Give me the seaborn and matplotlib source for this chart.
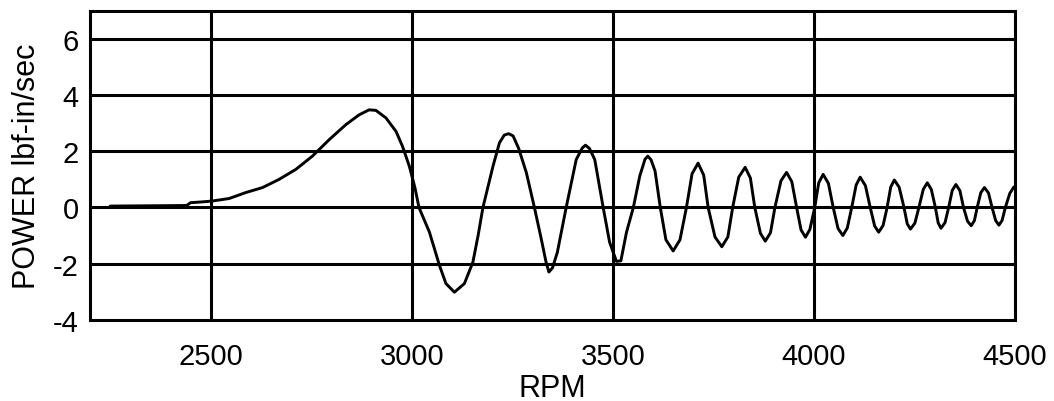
import matplotlib
matplotlib.use("Agg")
import matplotlib.pyplot as plt
import seaborn as sns
import pandas as pd

# Power response vs shaft speed
rpm = [2250, 2440, 2450, 2480, 2504, 2546, 2587, 2629, 2670, 2712, 2753, 2795,
       2836, 2869, 2894, 2911, 2936, 2961, 2977, 2994, 3008, 3018, 3044, 3069,
       3085, 3106, 3131, 3152, 3165, 3177, 3202, 3218, 3230, 3241, 3252, 3266,
       3285, 3305, 3322, 3334, 3341, 3350, 3362, 3384, 3409, 3424, 3432, 3442,
       3455, 3476, 3492, 3509, 3520, 3534, 3551,
       3567, 3580, 3587, 3595, 3605, 3618, 3632, 3650, 3667, 3683, 3697, 3712,
       3726, 3737, 3754, 3771, 3786, 3798, 3813, 3829, 3842, 3853, 3867, 3879,
       3892, 3903, 3918, 3932, 3945, 3957, 3968, 3979, 3990, 4002, 4012, 4023,
       4036, 4048, 4060, 4072, 4083, 4094, 4105, 4115, 4128, 4140, 4151, 4161,
       4172, 4182, 4191, 4200, 4212, 4224, 4232, 4240, 4251, 4261, 4272, 4282,
       4292, 4302, 4309, 4316, 4326, 4335, 4344, 4353, 4363, 4372, 4382, 4391,
       4399, 4406, 4415, 4424, 4434, 4443, 4452, 4460, 4468, 4476, 4487, 4497]
power = [0.05, 0.07, 0.17, 0.20, 0.23, 0.32, 0.53, 0.71, 1.00, 1.36, 1.83, 2.42,
         2.95, 3.30, 3.48, 3.46, 3.19, 2.71, 2.18, 1.47, 0.70, 0.00, -0.88, -2.07,
         -2.71, -3.02, -2.71, -1.95, -1.00, 0.00, 1.47, 2.30, 2.58, 2.63, 2.55, 2.10,
         1.24, 0.00, -1.12, -1.95, -2.30, -2.15, -1.60, 0.00, 1.71, 2.12, 2.22, 2.10,
         1.71, 0.00, -1.24, -1.92, -1.90, -0.88, 0.00,
         1.12, 1.72, 1.83, 1.70, 1.30, 0.00, -1.15, -1.55, -1.15, 0.00, 1.20, 1.58,
         1.15, 0.00, -1.05, -1.40, -1.05, 0.00, 1.08, 1.43, 1.05, 0.00, -0.92, -1.20,
         -0.90, 0.00, 0.95, 1.25, 0.92, 0.00, -0.80, -1.06, -0.78, 0.00, 0.88, 1.18,
         0.86, 0.00, -0.75, -1.00, -0.73, 0.00, 0.80, 1.08, 0.78, 0.00, -0.66, -0.88,
         -0.64, 0.00, 0.73, 0.98, 0.72, 0.00, -0.58, -0.77, -0.56, 0.00, 0.65, 0.88,
         0.64, 0.00, -0.55, -0.74, -0.54, 0.00, 0.61, 0.82, 0.60, 0.00, -0.49, -0.65,
         -0.47, 0.00, 0.53, 0.71, 0.52, 0.00, -0.47, -0.63, -0.46, 0.00, 0.50, 0.73]

x_ticks = [2500, 3000, 3500, 4000, 4500]
y_ticks = [-4, -2, 0, 2, 4, 6]

df = pd.DataFrame({"RPM": rpm, "POWER": power})

sns.set_style("white")
plt.rcParams["font.family"] = ["Liberation Sans", "DejaVu Sans"]
plt.rcParams["text.color"] = "black"
plt.rcParams["axes.labelcolor"] = "black"
plt.rcParams["xtick.color"] = "black"
plt.rcParams["ytick.color"] = "black"

fig = plt.figure(figsize=(10.54, 4.02), dpi=100)
ax = fig.add_axes([0.0854, 0.2022, 0.8776, 0.7678])

for xv in x_ticks[:-1]:
    ax.axvline(xv, color="black", lw=2.2, zorder=1)
for yv in y_ticks[1:]:
    ax.axhline(yv, color="black", lw=2.2, zorder=1)

sns.lineplot(data=df, x="RPM", y="POWER", ax=ax, color="black", lw=2.1,
             estimator=None, sort=False, zorder=3)

ax.set_xlim(2200, 4500)
ax.set_ylim(-4, 7)
ax.set_xticks(x_ticks)
ax.set_yticks(y_ticks)
ax.set_xticklabels([str(v) for v in x_ticks], fontsize=21, color="black")
ax.set_yticklabels([str(v) for v in y_ticks], fontsize=21, color="black")
ax.tick_params(axis="x", length=0, pad=16)
ax.tick_params(axis="y", length=0, pad=8)
ax.set_xlabel("RPM", fontsize=22, labelpad=2, color="black")
ax.set_ylabel("POWER lbf-in/sec", fontsize=22, labelpad=8, color="black")

for s in ax.spines.values():
    s.set_visible(True)
    s.set_color("black")
    s.set_linewidth(2.2)

fig.savefig("out.png", dpi=100)
